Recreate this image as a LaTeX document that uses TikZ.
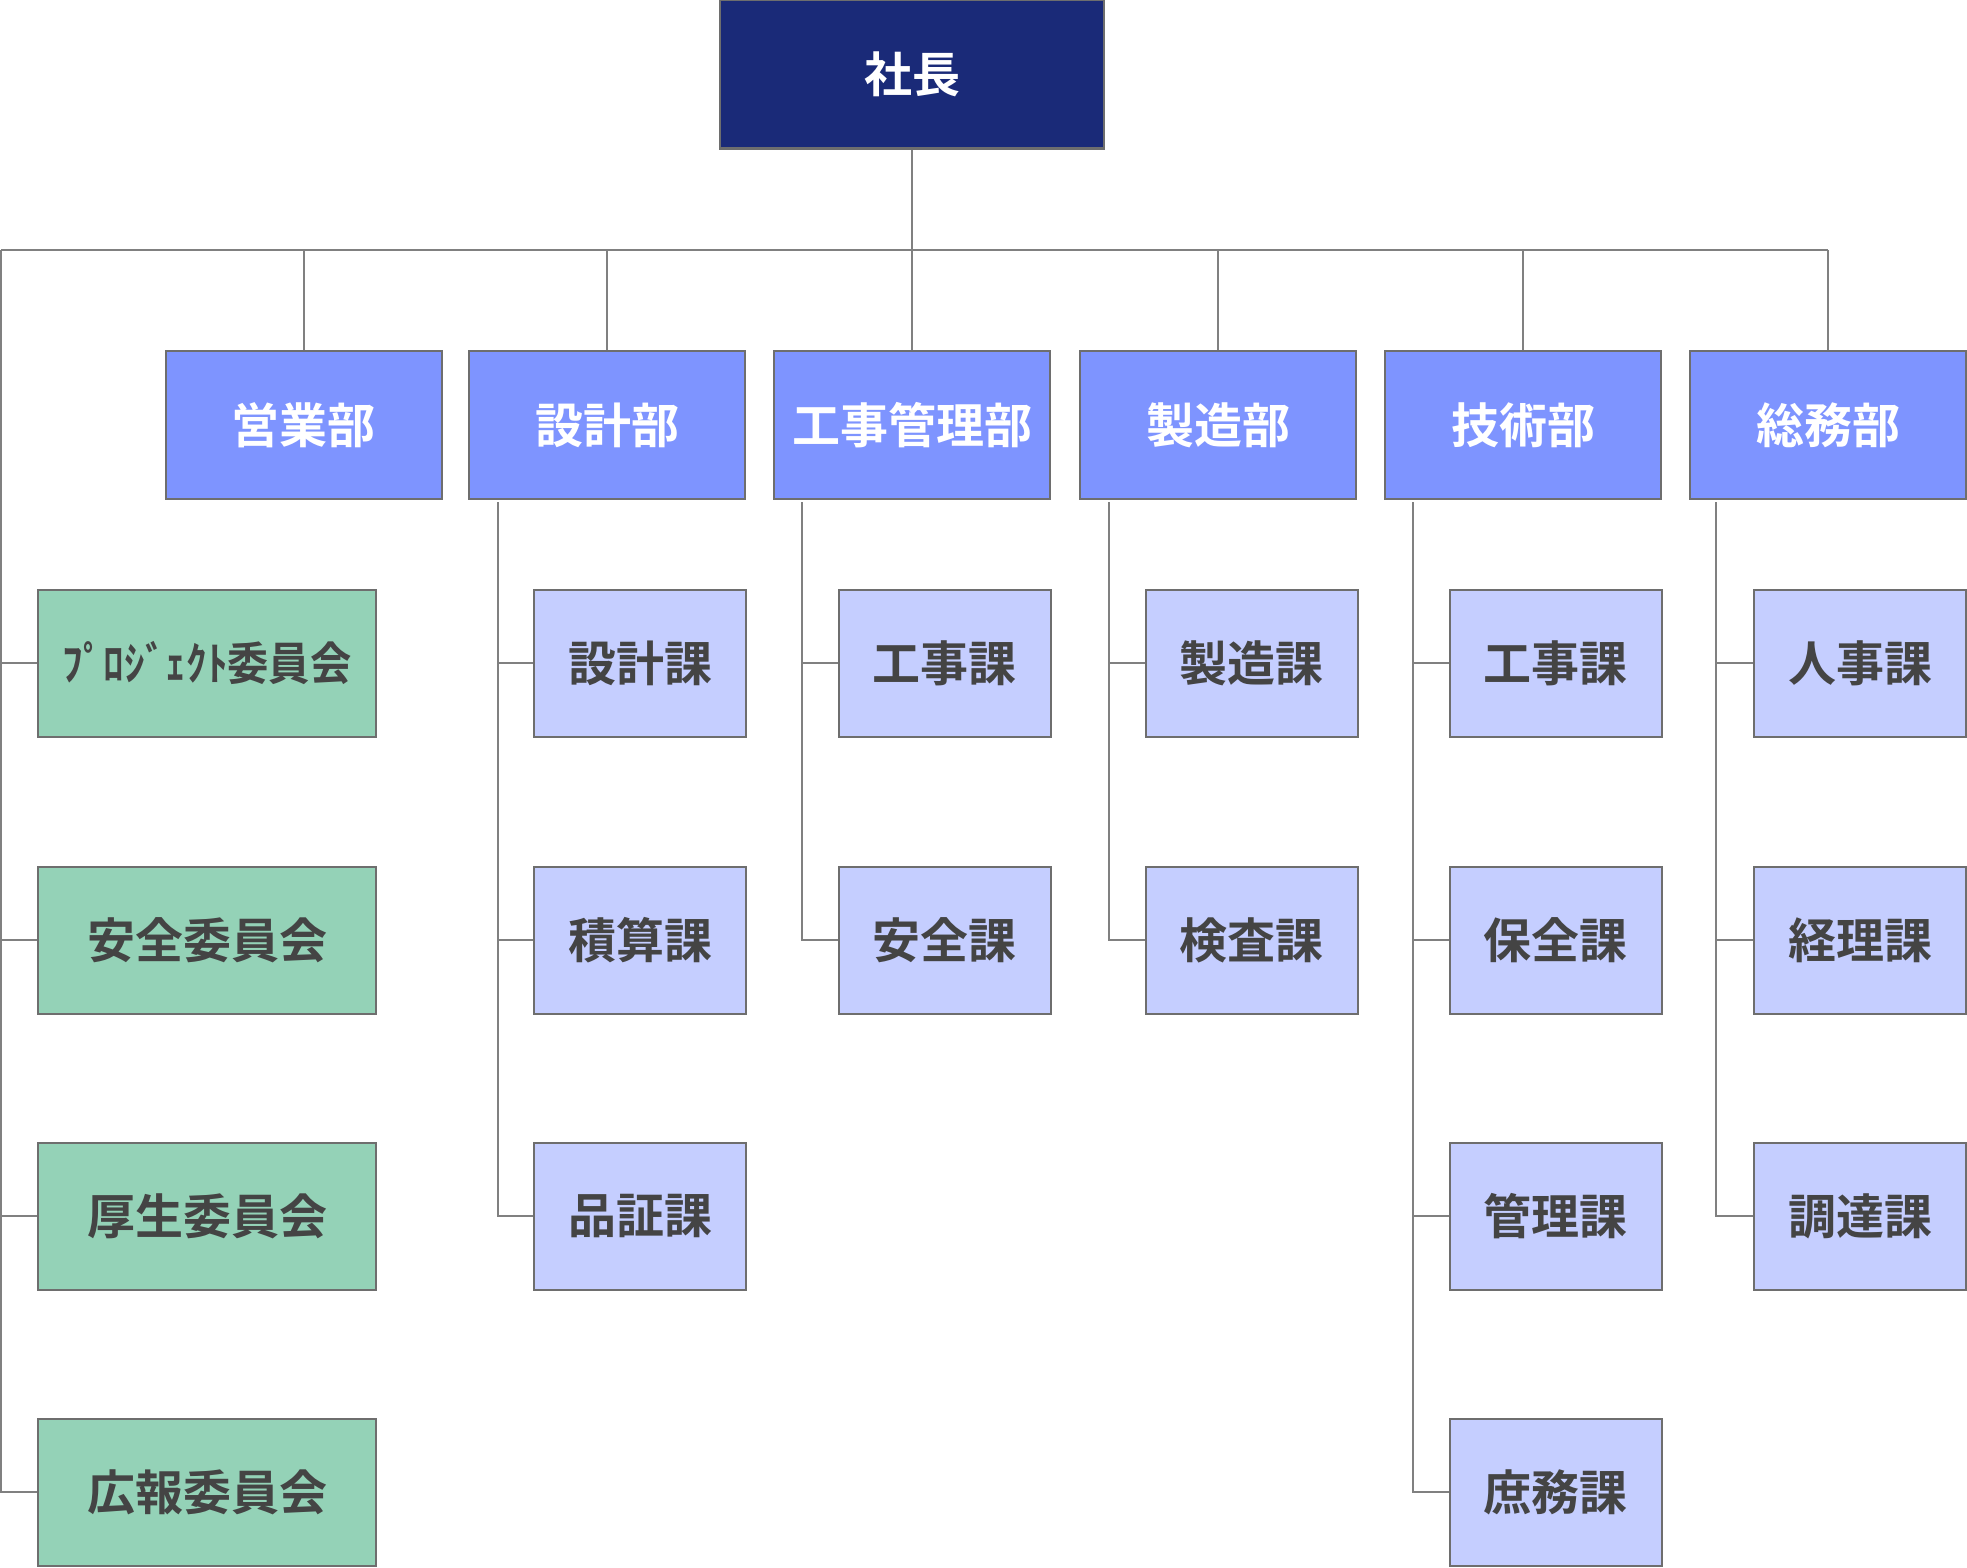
\documentclass[tikz,border=0pt]{standalone}
\usepackage{fontspec}
\newfontfamily\cjk{Noto Sans CJK JP}[BoldFont={Noto Sans CJK JP Bold}]
\definecolor{topc}{HTML}{1A2A78}
\definecolor{depc}{HTML}{7E94FF}
\definecolor{secc}{HTML}{C5CEFF}
\definecolor{comc}{HTML}{94D2B7}
\definecolor{bordc}{HTML}{6E6E6E}
\definecolor{linec}{HTML}{808080}
\definecolor{txtc}{HTML}{444444}
\begin{document}
\begin{tikzpicture}[x=1pt,y=-1pt,
  box/.style={draw=bordc,line width=2pt,rectangle,inner sep=0pt,anchor=center,
    font=\cjk\bfseries\fontsize{48}{52}\selectfont},
  topbox/.style={box,fill=topc,text=white,minimum width=384pt,minimum height=148pt},
  depbox/.style={box,fill=depc,text=white,minimum width=276pt,minimum height=148pt},
  secbox/.style={box,fill=secc,text=txtc,minimum width=212pt,minimum height=147pt},
  combox/.style={box,fill=comc,text=txtc,minimum width=338pt,minimum height=147pt},
  conn/.style={draw=linec,line width=2pt}]
\useasboundingbox (0,0) rectangle (1967,1568);
% top
\node[topbox] (top) at (912,74.5) {社長};
% departments
\node[depbox] (d1) at (303.7,425) {営業部};
\node[depbox] (d2) at (607,425) {設計部};
\node[depbox] (d3) at (912,425) {工事管理部};
\node[depbox] (d4) at (1218,425) {製造部};
\node[depbox] (d5) at (1523,425) {技術部};
\node[depbox] (d6) at (1828,425) {総務部};
% committees
\node[combox] (c1) at (207,663) {\scalebox{0.86}[0.95]{ﾌﾟﾛｼﾞｪｸﾄ委員会}};
\node[combox] (c2) at (207,940) {安全委員会};
\node[combox] (c3) at (207,1216) {厚生委員会};
\node[combox] (c4) at (207,1492) {広報委員会};
% sections
\node[secbox] (s21) at (640,663) {設計課};
\node[secbox] (s22) at (640,940) {積算課};
\node[secbox] (s23) at (640,1216) {品証課};
\node[secbox] (s31) at (944.5,663) {工事課};
\node[secbox] (s32) at (944.5,940) {安全課};
\node[secbox] (s41) at (1251.5,663) {製造課};
\node[secbox] (s42) at (1251.5,940) {検査課};
\node[secbox] (s51) at (1555.7,663) {工事課};
\node[secbox] (s52) at (1555.7,940) {保全課};
\node[secbox] (s53) at (1555.7,1216) {管理課};
\node[secbox] (s54) at (1555.7,1492) {庶務課};
\node[secbox] (s61) at (1860,663) {人事課};
\node[secbox] (s62) at (1860,940) {経理課};
\node[secbox] (s63) at (1860,1216) {調達課};
% bus coordinates
\coordinate (barL) at (1,250);
\coordinate (barR) at (d6.north |- barL);
\coordinate (b2) at (498,502);
\coordinate (b3) at (801.6,502);
\coordinate (b4) at (1109,502);
\coordinate (b5) at (1412.6,502);
\coordinate (b6) at (1716,502);
% main connectors
\draw[conn] (top.south) -- (top.south |- barL);
\draw[conn] (barL) -- (barR);
\foreach \d in {d1,d2,d3,d4,d5,d6} \draw[conn] (\d.north) -- (\d.north |- barL);
% committee bus
\draw[conn] (barL) |- (c4.west);
\foreach \c in {c1,c2,c3} \draw[conn] (\c.west) -- (\c.west -| barL);
% section buses
\draw[conn] (b2) |- (s23.west);
\foreach \s in {s21,s22} \draw[conn] (\s.west) -- (\s.west -| b2);
\draw[conn] (b3) |- (s32.west);
\draw[conn] (s31.west) -- (s31.west -| b3);
\draw[conn] (b4) |- (s42.west);
\draw[conn] (s41.west) -- (s41.west -| b4);
\draw[conn] (b5) |- (s54.west);
\foreach \s in {s51,s52,s53} \draw[conn] (\s.west) -- (\s.west -| b5);
\draw[conn] (b6) |- (s63.west);
\foreach \s in {s61,s62} \draw[conn] (\s.west) -- (\s.west -| b6);
\end{tikzpicture}
\end{document}
